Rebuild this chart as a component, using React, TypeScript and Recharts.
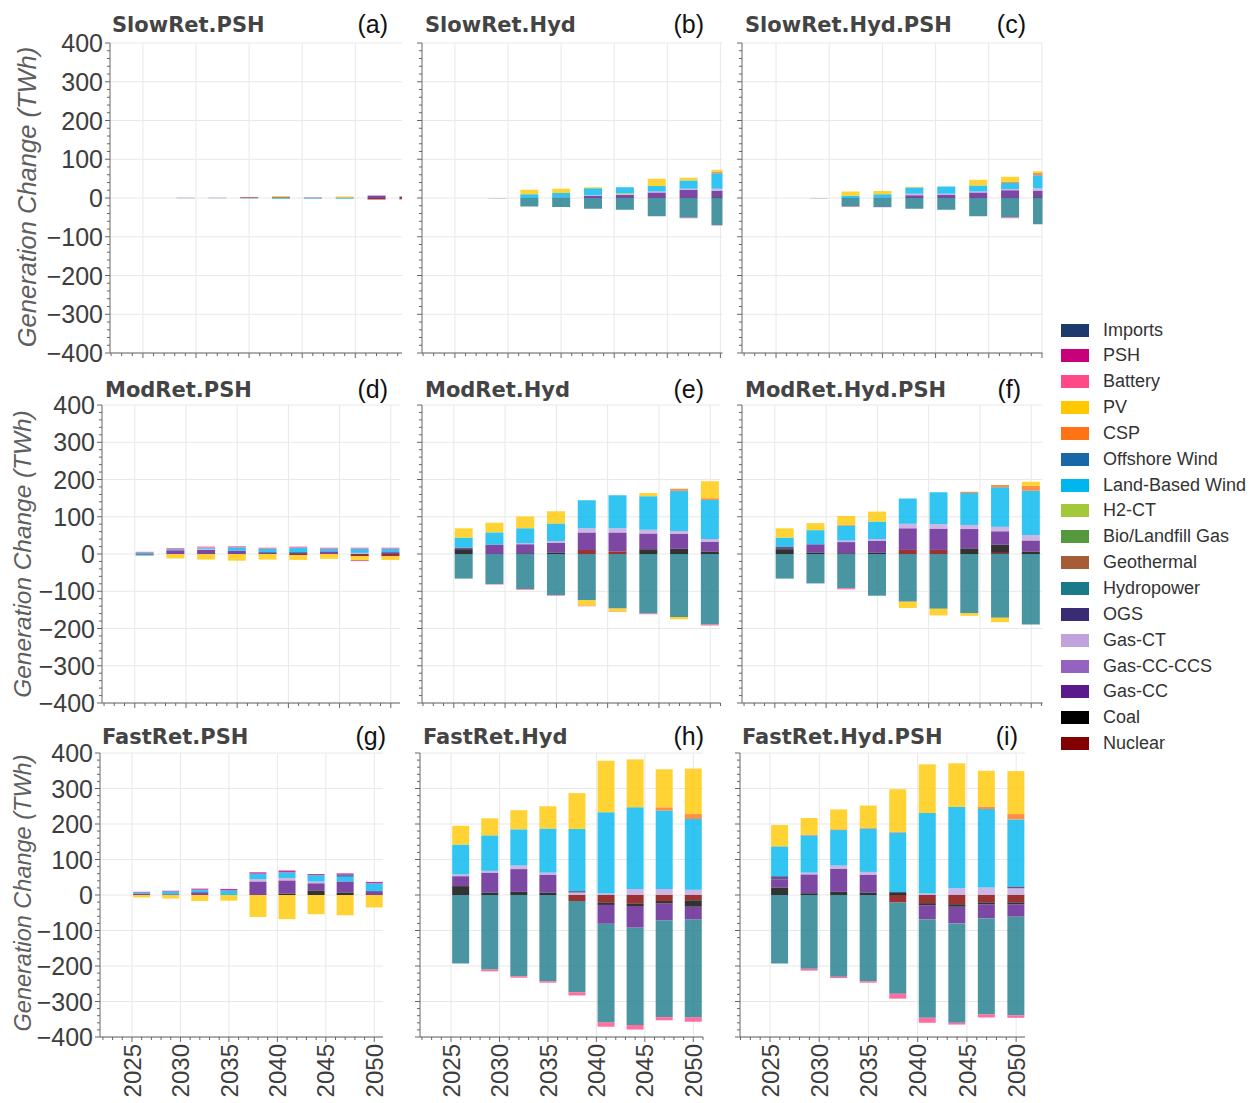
import React from 'react';
import { BarChart, Bar, XAxis, YAxis, CartesianGrid } from 'recharts';

const YEARS = [2026, 2029, 2032, 2035, 2038, 2041, 2044, 2047, 2050];

const TECHS = [
  'Imports', 'PSH', 'Battery', 'PV', 'CSP', 'Offshore Wind', 'Land-Based Wind', 'H2-CT',
  'Bio/Landfill Gas', 'Geothermal', 'Hydropower', 'OGS', 'Gas-CT', 'Gas-CC-CCS', 'Gas-CC',
  'Coal', 'Nuclear',
];

const TECH_COLORS = [
  '#1d3a6c', '#c8007a', '#ff4a88', '#ffc800', '#ff7315', '#1868a8', '#00b6ee', '#a3c93a',
  '#55983e', '#a65d36', '#1b7a8a', '#3a2c74', '#c0a2dd', '#9463c0', '#5b1a8c', '#000000',
  '#820000',
];

// generation change in TWh, one value per entry of YEARS
const slowRetPSH: Record<string, number[]> = {
  PV: [0, 0, 0, 1, 3, 0, 3, 0, 0],
  'Land-Based Wind': [0, 0, 0, 0, -2, -1, -2, 0, 0],
  'Gas-CT': [0, 0, 0, 0, 0, 1, 0, 2, 1],
  'Gas-CC': [0, 0.5, 0.5, 2, 2, 1, 1, 6, 4],
  Hydropower: [0, -0.5, -0.5, -1, 0, -1, 0, -1, 0],
  Nuclear: [0, 0, 0, 0, 0, 0, 0, -3, -3],
  Battery: [0, 0, 0, 0, 0, 0, 0, -1, -1],
};

const slowRetHyd: Record<string, number[]> = {
  PV: [0, 0, 11, 11, 3, 0, 19, 7, 5],
  CSP: [0, 0, 0, 0, 0, 0, 0, 0, 4],
  'Land-Based Wind': [0, 0, 10, 12, 18, 16, 14, 21, 40],
  'H2-CT': [0, 0, 0, 0, 0, 2, 0, 0, 0],
  'Gas-CT': [0, 0, 0, 0, 2, 2, 3, 3, 5],
  'Gas-CC': [0, 0, 0, 1, 5, 8, 14, 21, 17],
  Coal: [0, 0, 0, 0, 0, 0, 0, 0, 2],
  Hydropower: [0, -0.5, -22, -23, -28, -30, -47, -51, -70],
  Battery: [0, 0, 0, 0, 0, 0, 0, -1, -1],
};

const slowRetHydPSH: Record<string, number[]> = {
  PV: [0, 0, 11, 8, 2, 0, 15, 13, 4],
  CSP: [0, 0, 0, 0, 0, 0, 0, 3, 6],
  'Land-Based Wind': [0, 0, 6, 9, 16, 19, 15, 16, 34],
  'Gas-CT': [0, 0, 0, 0, 4, 3, 3, 3, 6],
  'Gas-CC': [0, 0, 0, 1, 7, 8, 14, 20, 17],
  Coal: [0, 0, 0, 0, 0, 0, 0, 0, 2],
  Hydropower: [0, -0.5, -22, -23, -28, -30, -47, -50, -68],
  Battery: [0, 0, -1.5, -1, 0, 0, 0, -2, 0],
};

const modRetPSH: Record<string, number[]> = {
  PSH: [0, 0, 0, 0, 0, 0, 0, -2, 0],
  Battery: [3, 3, 3, 3, 3, 3, 3, 3, 3],
  PV: [0, -12, -15, -18, -15, -13, -13, -11, -10],
  'Land-Based Wind': [3, 3, 3, 9, 9, 12, 7, 11, 9],
  Hydropower: [-4, 0, 0, 0, 0, 0, 0, 0, 0],
  OGS: [0, 0, 0, 0, 5, 5, 0, 0, 0],
  'Gas-CT': [0, 0, 3, 0, 0, 0, 0, 3, 0],
  'Gas-CC': [0, 10, 11, 9, 0, 0, 7, 0, 5],
  Nuclear: [0, 0, 0, 0, 0, -3, 0, -6, -6],
};

const modRetHyd: Record<string, number[]> = {
  Battery: [0, -1, -2, -1, -1, -1, -2, 0, -3],
  PV: [25, 26, 32, 33, -15, -9, 9, -6, 45],
  CSP: [0, 0, 0, 0, 0, 0, 0, 5, 5],
  'Land-Based Wind': [27, 33, 40, 48, 75, 89, 90, 108, 105],
  Hydropower: [-66, -81, -94, -111, -124, -146, -160, -169, -189],
  'Gas-CT': [0, 0, 3, 4, 11, 11, 10, 8, 7],
  'Gas-CC': [4, 25, 24, 26, 47, 51, 42, 40, 26],
  Coal: [13, 0, 2, 4, 0, 0, 13, 14, 7],
  Nuclear: [0, 0, 0, 0, 11, 7, 0, 0, 0],
};

const modRetHydPSH: Record<string, number[]> = {
  Battery: [0, 0, -3, 0, 0, 0, 0, 0, 0],
  PV: [25, 19, 24, 27, -17, -18, -7, -12, 11],
  CSP: [0, 0, 2, 0, 0, 0, 3, 6, 13],
  'Land-Based Wind': [24, 38, 40, 47, 68, 86, 86, 106, 119],
  Hydropower: [-66, -79, -92, -112, -128, -147, -159, -171, -189],
  OGS: [7, 0, 0, 0, 0, 0, 0, 0, 0],
  'Gas-CT': [0, 0, 4, 5, 12, 12, 11, 12, 15],
  'Gas-CC': [0, 22, 30, 31, 58, 57, 52, 36, 29],
  Coal: [13, 4, 2, 4, 0, 0, 15, 22, 7],
  Nuclear: [0, 0, 0, 0, 11, 11, 0, 3, 0],
};

const fastRetPSH: Record<string, number[]> = {
  PSH: [2, 2, 3, 4, 4, 5, 3, 4, 4],
  PV: [-7, -10, -17, -16, -62, -68, -54, -57, -35],
  'Offshore Wind': [0, 0, 0, 0, 0, 0, 0, 6, 0],
  'Land-Based Wind': [4, 8, 7, 13, 15, 16, 18, 13, 22],
  'Gas-CT': [0, 0, 0, 0, 7, 7, 5, 0, 0],
  'Gas-CC': [3, 2, 8, 0, 38, 37, 20, 31, 11],
  Coal: [0, 0, 0, 0, 0, 4, 13, 7, 0],
};

const fastRetHyd: Record<string, number[]> = {
  Battery: [0, -5, -4, -4, -9, -12, -13, -9, -12],
  PV: [53, 48, 54, 63, 101, 145, 135, 107, 128],
  CSP: [0, 0, 0, 0, 0, 0, 0, 9, 14],
  'Land-Based Wind': [84, 100, 102, 124, 175, 229, 230, 221, 199],
  Hydropower: [-193, -210, -229, -243, -257, -278, -274, -273, -276],
  OGS: [0, 0, 0, 0, 4, 0, 0, 0, 0],
  'Gas-CT': [5, 5, 10, 6, 7, 4, 17, 17, 15],
  'Gas-CC': [28, 56, 64, 50, 0, -53, -61, -47, -36],
  Coal: [25, 7, 9, 7, 0, -7, -7, -7, -18],
  Nuclear: [0, 0, 0, 0, -17, -21, -24, -17, -15],
};

const fastRetHydPSH: Record<string, number[]> = {
  Battery: [0, -5, -4, -4, -14, -14, -5, -9, -7],
  PV: [60, 47, 56, 63, 120, 137, 123, 101, 121],
  CSP: [0, 2, 2, 2, 2, 0, 0, 7, 15],
  'Land-Based Wind': [84, 105, 100, 122, 168, 227, 229, 221, 189],
  Hydropower: [-193, -208, -230, -243, -257, -278, -280, -270, -278],
  OGS: [9, 0, 0, 0, 0, 0, 0, 0, 5],
  'Gas-CT': [0, 5, 9, 8, 0, 4, 19, 21, 19],
  'Gas-CC': [23, 53, 65, 50, 0, -39, -47, -40, -35],
  Coal: [21, 5, 9, 7, 8, -6, -7, -5, -5],
  Nuclear: [0, 0, 0, 0, -21, -23, -26, -21, -21],
};

const Y_TICKS = Array.from({ length: 41 }, (_, i) => -400 + i * 20);
const Y_GRID = [-400, -300, -200, -100, 0, 100, 200, 300, 400];
const X_GRID = [2025, 2030, 2035, 2040, 2045, 2050];
const X_TICKS = Array.from({ length: 30 }, (_, i) => 2022 + i);

const FONT = '"Liberation Sans", Arial, sans-serif';

type Panel = {
  title: string;
  tag: string;
  series: Record<string, number[]>;
  x: number; y: number; w: number; h: number;
  domain: [number, number];
  barSize: number;
  firstCol: boolean;
  lastRow: boolean;
  titleX: number; titleY: number; tagRight: number;
};

const PANELS: Panel[] = [
  { title: 'SlowRet.PSH', tag: '(a)', series: slowRetPSH, x: 110, y: 43, w: 292, h: 310, domain: [2021.9, 2049.4], barSize: 18, firstCol: true, lastRow: false, titleX: 112, titleY: 25, tagRight: 388 },
  { title: 'SlowRet.Hyd', tag: '(b)', series: slowRetHyd, x: 421.5, y: 43, w: 300.5, h: 310, domain: [2021.9, 2050.2], barSize: 18, firstCol: false, lastRow: false, titleX: 425, titleY: 25, tagRight: 704 },
  { title: 'SlowRet.Hyd.PSH', tag: '(c)', series: slowRetHydPSH, x: 741.5, y: 43, w: 300.5, h: 310, domain: [2021.8, 2050.05], barSize: 18, firstCol: false, lastRow: false, titleX: 745, titleY: 25, tagRight: 1026 },
  { title: 'ModRet.PSH', tag: '(d)', series: modRetPSH, x: 102, y: 405, w: 298, h: 298, domain: [2021.8, 2050.9], barSize: 18, firstCol: true, lastRow: false, titleX: 105, titleY: 390, tagRight: 388 },
  { title: 'ModRet.Hyd', tag: '(e)', series: modRetHyd, x: 421.5, y: 405, w: 298.5, h: 298, domain: [2021.9, 2051], barSize: 18, firstCol: false, lastRow: false, titleX: 425, titleY: 390, tagRight: 704 },
  { title: 'ModRet.Hyd.PSH', tag: '(f)', series: modRetHydPSH, x: 741.5, y: 405, w: 300.5, h: 298, domain: [2021.8, 2051.1], barSize: 18, firstCol: false, lastRow: false, titleX: 745, titleY: 390, tagRight: 1021 },
  { title: 'FastRet.PSH', tag: '(g)', series: fastRetPSH, x: 100, y: 753, w: 283, h: 284, domain: [2021.7, 2050.9], barSize: 17, firstCol: true, lastRow: true, titleX: 102, titleY: 737, tagRight: 386 },
  { title: 'FastRet.Hyd', tag: '(h)', series: fastRetHyd, x: 420, y: 753, w: 283, h: 284, domain: [2021.8, 2051.0], barSize: 17, firstCol: false, lastRow: true, titleX: 423, titleY: 737, tagRight: 704 },
  { title: 'FastRet.Hyd.PSH', tag: '(i)', series: fastRetHydPSH, x: 740, y: 753, w: 285, h: 284, domain: [2021.95, 2050.9], barSize: 17, firstCol: false, lastRow: true, titleX: 742, titleY: 737, tagRight: 1018 },
];

const Y_LABELS = [
  { cx: 28, cy: 197, size: 25.5 },
  { cx: 23, cy: 554, size: 24.4 },
  { cx: 24, cy: 893, size: 23.5 },
];

function toRows(series: Record<string, number[]>) {
  return YEARS.map((year, i) => {
    const row: Record<string, number> = { year };
    TECHS.forEach((t, k) => {
      row['s' + k] = series[t] ? series[t][i] : 0;
    });
    return row;
  });
}

function YTick(props: any) {
  const { x, y, payload, showLabel } = props;
  const v = payload.value;
  const major = v % 100 === 0;
  return (
    <g>
      <line x1={x} x2={x - (major ? 5 : 3)} y1={y} y2={y} stroke="#666" />
      {showLabel && major && (
        <text x={x - 7} y={y} dy="0.36em" textAnchor="end" fontSize={25} fill="#3d3d3d" fontFamily={FONT}>
          {v < 0 ? '\u2212' + Math.abs(v) : String(v)}
        </text>
      )}
    </g>
  );
}

function XTick(props: any) {
  const { x, y, payload, showLabel } = props;
  const v = payload.value;
  const major = v % 5 === 0;
  return (
    <g>
      <line x1={x} x2={x} y1={y} y2={y + (major ? 5 : 3)} stroke="#666" />
      {showLabel && major && (
        <text transform={`translate(${x},${y + 7}) rotate(-90)`} dy="0.36em" textAnchor="end" fontSize={24} fill="#3d3d3d" fontFamily={FONT}>
          {v}
        </text>
      )}
    </g>
  );
}

const Y_AXIS_W = 75;
const PAD = 16;

function PanelChart({ p }: { p: Panel }) {
  const xh = p.lastRow ? 70 : 16;
  const rows = toRows(p.series);
  const ticks = X_TICKS.filter((t) => t >= p.domain[0] && t <= p.domain[1]);
  const order = TECHS.map((t, k) => k).reverse();
  return (
    <div style={{ position: 'absolute', left: p.x - Y_AXIS_W, top: p.y - PAD }}>
      <BarChart
        width={p.w + Y_AXIS_W + 5}
        height={p.h + PAD + xh}
        data={rows}
        stackOffset="sign"
        margin={{ top: PAD, right: 5, left: 0, bottom: 0 }}
      >
        <CartesianGrid stroke="#e8e8e8" horizontalValues={Y_GRID} verticalValues={X_GRID} />
        <XAxis
          dataKey="year"
          type="number"
          domain={p.domain}
          allowDataOverflow
          ticks={ticks}
          interval={0}
          height={xh}
          tickSize={0}
          tickMargin={0}
          tickLine={false}
          axisLine={{ stroke: '#666' }}
          tick={(tp: any) => <XTick {...tp} showLabel={p.lastRow} />}
        />
        <YAxis
          type="number"
          domain={[-400, 400]}
          allowDataOverflow
          ticks={Y_TICKS}
          interval={0}
          width={Y_AXIS_W}
          tickSize={0}
          tickMargin={0}
          tickLine={false}
          axisLine={{ stroke: '#666' }}
          tick={(tp: any) => <YTick {...tp} showLabel={p.firstCol} />}
        />
        {order.map((k) => (
          <Bar
            key={k}
            dataKey={'s' + k}
            stackId="gen"
            fill={TECH_COLORS[k]}
            fillOpacity={0.8}
            barSize={p.barSize}
            isAnimationActive={false}
          />
        ))}
      </BarChart>
    </div>
  );
}

export default function App() {
  return (
    <div
      style={{
        position: 'absolute',
        left: 0,
        top: 0,
        width: 1255,
        height: 1103,
        overflow: 'hidden',
        background: '#fff',
        fontFamily: FONT,
      }}
    >
      {PANELS.map((p) => (
        <PanelChart key={p.tag} p={p} />
      ))}
      {PANELS.map((p) => (
        <React.Fragment key={'t' + p.tag}>
          <div
            style={{
              position: 'absolute',
              left: p.titleX,
              top: p.titleY - 11,
              fontFamily: '"DejaVu Sans", sans-serif',
              fontWeight: 'bold',
              fontSize: 21,
              lineHeight: '22px',
              color: '#444',
              whiteSpace: 'nowrap',
            }}
          >
            {p.title}
          </div>
          <div
            style={{
              position: 'absolute',
              left: p.tagRight - 60,
              width: 60,
              top: p.titleY - 13,
              textAlign: 'right',
              fontSize: 25,
              lineHeight: '25px',
              color: '#111',
            }}
          >
            {p.tag}
          </div>
        </React.Fragment>
      ))}
      {Y_LABELS.map((l, i) => (
        <div
          key={'y' + i}
          style={{
            position: 'absolute',
            left: l.cx,
            top: l.cy,
            transform: 'translate(-50%, -50%) rotate(-90deg)',
            fontStyle: 'italic',
            fontSize: l.size,
            lineHeight: 1,
            color: '#5e5e5e',
            whiteSpace: 'nowrap',
          }}
        >
          Generation Change (TWh)
        </div>
      ))}
      {TECHS.map((t, i) => (
        <div
          key={'l' + t}
          style={{ position: 'absolute', left: 1061, top: 330 + i * 25.85 - 10, height: 20, display: 'flex', alignItems: 'center', whiteSpace: 'nowrap' }}
        >
          <div style={{ width: 28, height: 13, background: TECH_COLORS[i] }} />
          <span style={{ marginLeft: 14, fontSize: 18, color: '#333' }}>{t}</span>
        </div>
      ))}
    </div>
  );
}
